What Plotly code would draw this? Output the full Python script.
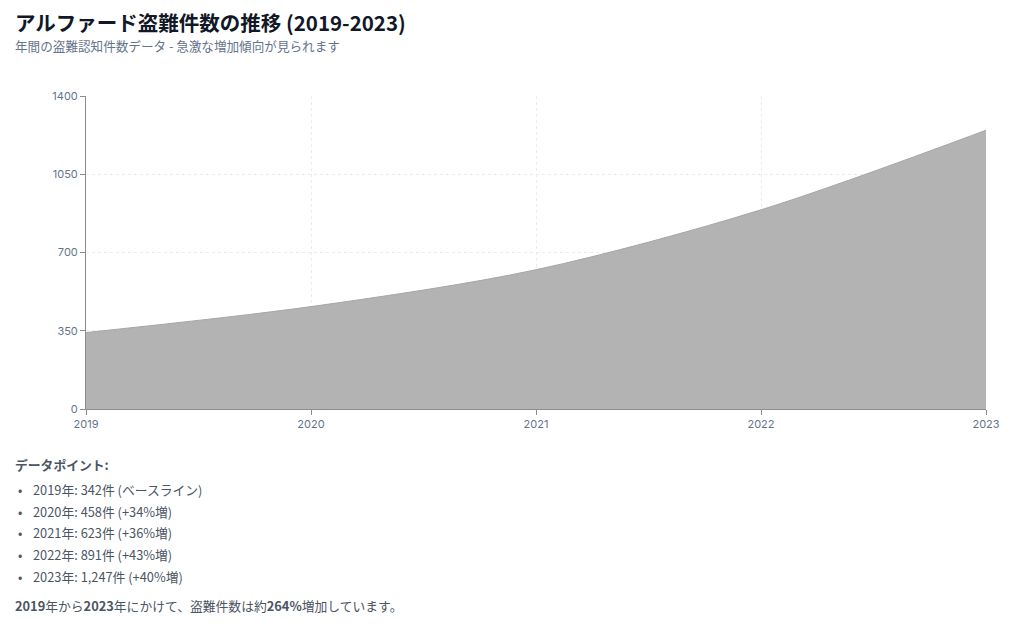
import plotly.graph_objects as go

# data
years = [2019, 2020, 2021, 2022, 2023]
thefts = [342, 458, 623, 891, 1247]
growth_notes = ["ベースライン", "+34%増", "+36%増", "+43%増", "+40%増"]
total_growth_pct = 264
y_ticks = [0, 350, 700, 1050, 1400]

TITLE = "アルファード盗難件数の推移 (2019-2023)"
SUBTITLE = "年間の盗難認知件数データ - 急激な増加傾向が見られます"

JP = "Noto Sans CJK JP, Inter, sans-serif"
NUM = "Inter, Noto Sans CJK JP, sans-serif"

# the page body adds an 8px margin, so work in page pixels and shift
OFF = 8
W, H = 1024 - OFF, 634 - OFF
L, R, T, B = 86, 986, 96, 409   # plot box in page pixels


def px_x(px):
    return (px - L) / (R - L)


def px_y(py):
    return (B - py) / (B - T)


fig = go.Figure()
fig.add_trace(go.Scatter(
    x=years,
    y=thefts,
    mode="lines",
    line=dict(shape="spline", smoothing=0.9, color="#a6a6a6", width=1),
    fill="tozeroy",
    fillcolor="#b3b3b3",
    hoverinfo="x+y",
    showlegend=False,
))

TXT = "#4b5563"
notes = []
notes.append(dict(text="<b>" + TITLE + "</b>", x=px_x(14), y=px_y(22),
                  font=dict(size=20.5, color="#111827", family=JP)))
notes.append(dict(text=SUBTITLE, x=px_x(14), y=px_y(46),
                  font=dict(size=12.6, color="#64748b", family=JP)))
notes.append(dict(text="<b>データポイント:</b>", x=px_x(14), y=px_y(464),
                  font=dict(size=12.8, color=TXT, family=JP)))

row_y = [489, 511, 532, 554, 576]
for yr, n, g, py in zip(years, thefts, growth_notes, row_y):
    notes.append(dict(text="•", x=px_x(17), y=px_y(py),
                      font=dict(size=12.8, color=TXT, family=JP)))
    notes.append(dict(text=f"{yr}年: {n:,}件 ({g})", x=px_x(32), y=px_y(py),
                      font=dict(size=12.8, color=TXT, family=JP)))

notes.append(dict(
    text=f"<b>{years[0]}</b>年から<b>{years[-1]}</b>年にかけて、盗難件数は約<b>{total_growth_pct}%</b>増加しています。",
    x=px_x(14), y=px_y(605),
    font=dict(size=12.8, color=TXT, family=JP)))

for a in notes:
    a.update(xref="paper", yref="paper", xanchor="left", yanchor="middle",
             showarrow=False, borderpad=0)

axis_style = dict(
    showline=True, linecolor="#8c8c8c", linewidth=1,
    ticks="outside", ticklen=5, tickcolor="#8c8c8c",
    showgrid=True, gridcolor="#ebebeb", griddash="dot",
    zeroline=False, tickfont=dict(size=11, color="#64748b"),
)

fig.update_layout(
    width=W,
    height=H,
    margin=dict(l=L - OFF, r=1024 - R, t=T - OFF, b=634 - B, pad=0),
    paper_bgcolor="white",
    plot_bgcolor="white",
    annotations=notes,
    font=dict(family=NUM, size=11, color="#64748b"),
    xaxis=dict(range=[years[0], years[-1]], tickvals=years,
               ticktext=[str(y) for y in years], **axis_style),
    yaxis=dict(range=[0, 1400], tickvals=y_ticks, **axis_style),
)

fig.write_html("out.html")
